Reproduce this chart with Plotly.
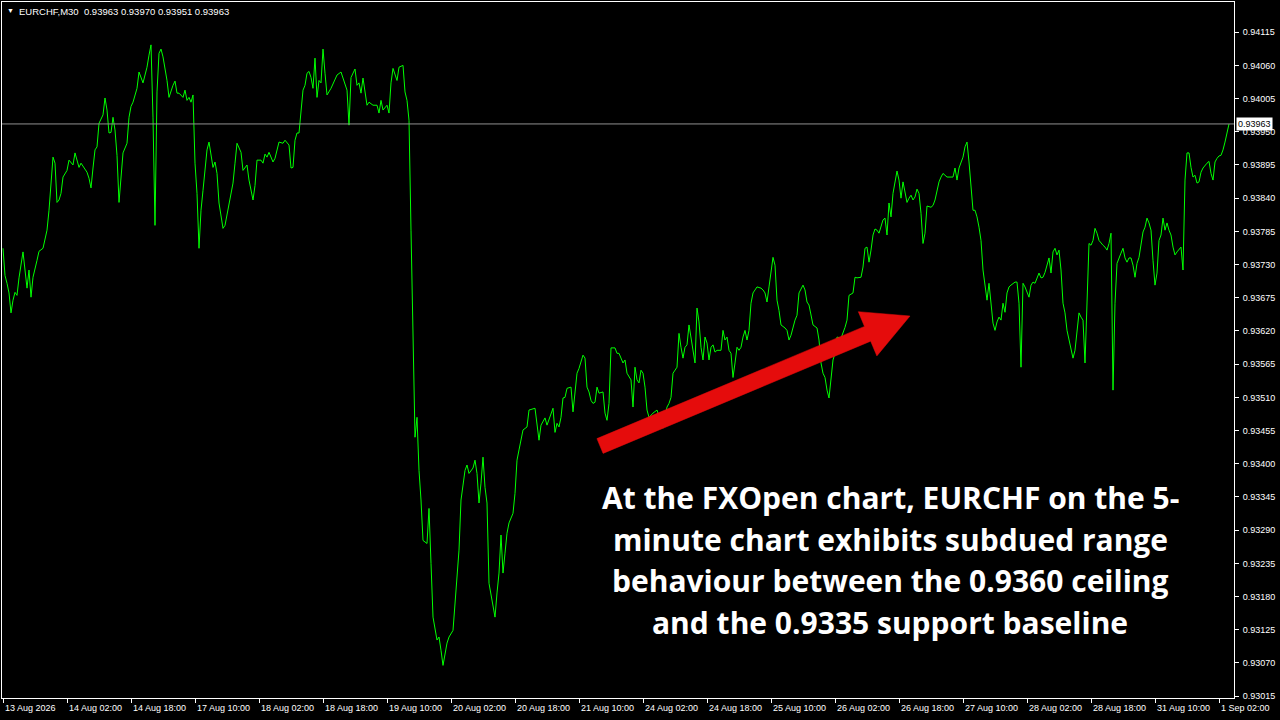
import math
import plotly.graph_objects as go

# ---------------- data ----------------
bar_index = [
    0, 1, 2, 3, 4, 5, 6, 7, 8, 9,
    10, 12, 13, 14, 15, 17, 18, 20, 22, 23,
    24, 25, 26, 27, 28, 29, 30, 32, 33, 35,
    36, 38, 39, 42, 43, 44, 45, 46, 47, 48,
    50, 51, 52, 53, 54, 55, 56, 57, 58, 59,
    60, 62, 63, 64, 65, 67, 68, 70, 72, 73,
    74, 75, 76, 77, 78, 79, 80, 82, 83, 85,
    86, 87, 88, 90, 91, 92, 93, 94, 95, 96,
    97, 98, 99, 100, 101, 102, 103, 105, 106, 107,
    108, 110, 111, 113, 115, 116, 117, 119, 120, 122,
    123, 125, 126, 127, 129, 130, 131, 132, 133, 135,
    136, 138, 140, 141, 143, 144, 145, 146, 147, 148,
    149, 150, 151, 152, 153, 154, 155, 156, 157, 158,
    159, 160, 161, 162, 164, 167, 169, 170, 172, 173,
    174, 176, 177, 178, 179, 180, 181, 182, 183, 185,
    187, 188, 189, 190, 192, 193, 194, 195, 197, 198,
    200, 201, 202, 203, 204, 205, 206, 207, 208, 209,
    210, 212, 213, 214, 215, 217, 218, 219, 220, 222,
    223, 225, 226, 228, 229, 231, 232, 233, 235, 236,
    237, 238, 239, 240, 241, 242, 243, 245, 246, 247,
    248, 249, 250, 251, 252, 253, 255, 256, 257, 258,
    260, 262, 263, 266, 267, 268, 269, 271, 272, 275,
    276, 277, 278, 279, 280, 281, 282, 284, 285, 287,
    288, 290, 291, 292, 293, 294, 295, 296, 297, 298,
    300, 301, 302, 303, 304, 306, 307, 308, 310, 311,
    312, 314, 315, 316, 317, 318, 319, 320, 321, 322,
    323, 325, 327, 330, 332, 333, 334, 335, 337, 338,
    339, 340, 341, 342, 343, 344, 345, 346, 347, 348,
    349, 350, 351, 352, 353, 354, 355, 356, 357, 359,
    360, 361, 362, 363, 364, 365, 366, 367, 368, 369,
    370, 371, 372, 373, 374, 375, 376, 377, 379, 380,
    381, 382, 383, 384, 385, 386, 387, 388, 389, 391,
    392, 393, 394, 396, 397, 398, 399, 400, 401, 402,
    403, 405, 407, 408, 409, 410, 411, 412, 413, 414,
    415, 416, 417, 419, 420, 421, 422, 423, 425, 426,
    427, 429, 430, 431, 432, 433, 434, 435, 436, 437,
    438, 439, 440, 441, 442, 443, 444, 445, 446, 447,
    448, 449, 450, 451, 452, 453, 454, 455, 456, 457,
    458, 459, 460, 461, 462, 464, 465, 466, 467, 468,
    469, 470, 472, 474, 475, 476, 477, 478, 479, 480,
    481, 482, 483, 484, 485, 486, 487, 488, 489, 490,
    491, 492, 493, 494, 495, 496, 497, 498, 499, 500,
    501, 502, 503, 504, 506, 507, 508, 509, 510, 511,
    512, 513, 514, 515, 516, 517, 518, 519, 520, 521,
    522, 523, 524, 525, 526, 527, 528, 529, 530, 531,
    532, 533, 534, 535, 536, 537, 538, 539, 540, 541,
    542, 543, 544, 545, 546, 547, 548, 549, 550, 551,
    552, 553, 554, 555, 556, 557, 558, 559, 560, 561,
    562, 563, 564, 565, 566, 567, 568, 569, 570, 571,
    572, 573, 574, 575, 576, 577, 578, 579, 580, 581,
    582, 583, 584, 585, 586, 587, 588, 589, 590, 591,
    592, 593, 594, 595, 596, 597, 598, 599, 600, 601,
    602, 603, 604, 605, 606, 607, 608, 609, 610, 611,
    612, 613,
]

close = [
    0.93757, 0.93712, 0.93699, 0.93683, 0.93650, 0.93671, 0.93684, 0.93679, 0.93708, 0.93732,
    0.93751, 0.93691, 0.93721, 0.93676, 0.93709, 0.93737, 0.93752, 0.93757, 0.93787, 0.93820,
    0.93858, 0.93908, 0.93898, 0.93833, 0.93837, 0.93848, 0.93875, 0.93886, 0.93903, 0.93895,
    0.93915, 0.93891, 0.93898, 0.93883, 0.93873, 0.93857, 0.93890, 0.93920, 0.93925, 0.93964,
    0.93978, 0.94006, 0.93986, 0.93948, 0.93949, 0.93974, 0.93953, 0.93911, 0.93833, 0.93875,
    0.93915, 0.93931, 0.93974, 0.93992, 0.93999, 0.94022, 0.94049, 0.94031, 0.94057, 0.94077,
    0.94094, 0.93973, 0.93795, 0.94016, 0.94080, 0.94087, 0.94074, 0.94035, 0.94007, 0.94027,
    0.94034, 0.94014, 0.94014, 0.94007, 0.94019, 0.94002, 0.94007, 0.93999, 0.94011, 0.93898,
    0.93848, 0.93757, 0.93820, 0.93853, 0.93886, 0.93920, 0.93933, 0.93891, 0.93900, 0.93881,
    0.93832, 0.93790, 0.93795, 0.93832, 0.93865, 0.93898, 0.93931, 0.93916, 0.93886, 0.93895,
    0.93870, 0.93837, 0.93861, 0.93903, 0.93903, 0.93898, 0.93913, 0.93908, 0.93916, 0.93900,
    0.93906, 0.93933, 0.93931, 0.93936, 0.93928, 0.93890, 0.93891, 0.93936, 0.93948, 0.93948,
    0.93986, 0.94019, 0.94027, 0.94047, 0.94050, 0.94040, 0.94022, 0.94072, 0.94007, 0.94035,
    0.94031, 0.94087, 0.94047, 0.94011, 0.94022, 0.94044, 0.94049, 0.94040, 0.94019, 0.93961,
    0.94040, 0.94054, 0.94027, 0.94031, 0.94014, 0.94039, 0.94014, 0.93994, 0.93999, 0.93994,
    0.93994, 0.93981, 0.94002, 0.93986, 0.93994, 0.93981, 0.94031, 0.94055, 0.94035, 0.94057,
    0.94060, 0.94016, 0.94002, 0.93969, 0.93787, 0.93621, 0.93444, 0.93477, 0.93389, 0.93340,
    0.93273, 0.93268, 0.93326, 0.93235, 0.93146, 0.93108, 0.93113, 0.93091, 0.93066, 0.93103,
    0.93113, 0.93124, 0.93174, 0.93257, 0.93340, 0.93389, 0.93398, 0.93384, 0.93393, 0.93406,
    0.93384, 0.93335, 0.93368, 0.93411, 0.93361, 0.93335, 0.93202, 0.93161, 0.93146, 0.93186,
    0.93219, 0.93282, 0.93219, 0.93252, 0.93285, 0.93302, 0.93318, 0.93351, 0.93406, 0.93423,
    0.93456, 0.93461, 0.93489, 0.93492, 0.93461, 0.93439, 0.93464, 0.93476, 0.93464, 0.93492,
    0.93452, 0.93467, 0.93461, 0.93477, 0.93509, 0.93510, 0.93525, 0.93527, 0.93486, 0.93550,
    0.93558, 0.93580, 0.93575, 0.93527, 0.93519, 0.93505, 0.93500, 0.93502, 0.93527, 0.93517,
    0.93519, 0.93484, 0.93472, 0.93500, 0.93592, 0.93592, 0.93583, 0.93583, 0.93567, 0.93572,
    0.93550, 0.93539, 0.93494, 0.93560, 0.93539, 0.93534, 0.93555, 0.93550, 0.93527, 0.93489,
    0.93477, 0.93484, 0.93489, 0.93459, 0.93494, 0.93500, 0.93510, 0.93550, 0.93560, 0.93616,
    0.93593, 0.93575, 0.93593, 0.93597, 0.93630, 0.93610, 0.93593, 0.93567, 0.93658, 0.93635,
    0.93593, 0.93572, 0.93610, 0.93600, 0.93572, 0.93593, 0.93597, 0.93585, 0.93588, 0.93588,
    0.93621, 0.93605, 0.93610, 0.93588, 0.93583, 0.93543, 0.93567, 0.93593, 0.93588, 0.93593,
    0.93610, 0.93621, 0.93605, 0.93621, 0.93666, 0.93683, 0.93688, 0.93693, 0.93691, 0.93688,
    0.93683, 0.93668, 0.93693, 0.93716, 0.93742, 0.93729, 0.93671, 0.93654, 0.93630, 0.93625,
    0.93621, 0.93605, 0.93613, 0.93638, 0.93646, 0.93683, 0.93691, 0.93696, 0.93688, 0.93668,
    0.93663, 0.93630, 0.93625, 0.93605, 0.93567, 0.93550, 0.93543, 0.93522, 0.93509, 0.93543,
    0.93572, 0.93583, 0.93610, 0.93608, 0.93616, 0.93626, 0.93638, 0.93679, 0.93683, 0.93709,
    0.93708, 0.93709, 0.93726, 0.93757, 0.93759, 0.93734, 0.93754, 0.93779, 0.93789, 0.93787,
    0.93782, 0.93795, 0.93804, 0.93807, 0.93779, 0.93832, 0.93809, 0.93848, 0.93865, 0.93885,
    0.93870, 0.93840, 0.93867, 0.93848, 0.93833, 0.93840, 0.93845, 0.93837, 0.93842, 0.93855,
    0.93848, 0.93815, 0.93765, 0.93782, 0.93827, 0.93825, 0.93828, 0.93837, 0.93853, 0.93867,
    0.93875, 0.93881, 0.93875, 0.93875, 0.93875, 0.93890, 0.93870, 0.93890, 0.93898, 0.93908,
    0.93925, 0.93933, 0.93900, 0.93853, 0.93820, 0.93820, 0.93809, 0.93792, 0.93770, 0.93721,
    0.93699, 0.93671, 0.93699, 0.93666, 0.93633, 0.93621, 0.93635, 0.93643, 0.93638, 0.93666,
    0.93651, 0.93683, 0.93693, 0.93696, 0.93701, 0.93701, 0.93666, 0.93560, 0.93699, 0.93693,
    0.93683, 0.93676, 0.93696, 0.93701, 0.93699, 0.93709, 0.93716, 0.93708, 0.93709, 0.93717,
    0.93729, 0.93741, 0.93716, 0.93751, 0.93757, 0.93746, 0.93754, 0.93721, 0.93666, 0.93650,
    0.93621, 0.93605, 0.93588, 0.93575, 0.93588, 0.93616, 0.93650, 0.93643, 0.93638, 0.93567,
    0.93688, 0.93765, 0.93762, 0.93770, 0.93790, 0.93782, 0.93770, 0.93765, 0.93762, 0.93759,
    0.93754, 0.93765, 0.93782, 0.93522, 0.93666, 0.93732, 0.93742, 0.93749, 0.93757, 0.93741,
    0.93734, 0.93741, 0.93741, 0.93729, 0.93709, 0.93732, 0.93742, 0.93765, 0.93784, 0.93792,
    0.93807, 0.93799, 0.93787, 0.93737, 0.93696, 0.93716, 0.93770, 0.93779, 0.93807, 0.93787,
    0.93799, 0.93787, 0.93779, 0.93759, 0.93746, 0.93751, 0.93755, 0.93759, 0.93721, 0.93870,
    0.93915, 0.93915, 0.93891, 0.93875, 0.93878, 0.93865, 0.93867, 0.93883, 0.93890, 0.93895,
    0.93898, 0.93901, 0.93881, 0.93870, 0.93900, 0.93906, 0.93910, 0.93911, 0.93920, 0.93933,
    0.93949, 0.93963,
]

x_tick_index = [0, 32, 64, 96, 128, 160, 192, 224, 256, 288,
                320, 352, 384, 416, 448, 480, 512, 544, 576, 608]
x_tick_labels = ["13 Aug 2026", "14 Aug 02:00", "14 Aug 18:00", "17 Aug 10:00",
                 "18 Aug 02:00", "18 Aug 18:00", "19 Aug 10:00", "20 Aug 02:00",
                 "20 Aug 18:00", "21 Aug 10:00", "24 Aug 02:00", "24 Aug 18:00",
                 "25 Aug 10:00", "26 Aug 02:00", "26 Aug 18:00", "27 Aug 10:00",
                 "28 Aug 02:00", "28 Aug 18:00", "31 Aug 10:00", "1 Sep 02:00"]

y_tick_values = [0.94115, 0.94060, 0.94005, 0.93950, 0.93895, 0.93840, 0.93785,
                 0.93730, 0.93675, 0.93620, 0.93565, 0.93510, 0.93455, 0.93400,
                 0.93345, 0.93290, 0.93235, 0.93180, 0.93125, 0.93070, 0.93015]
y_tick_labels = ["%.5f" % v for v in y_tick_values]

symbol = "EURCHF,M30"
ohlc = ["0.93963", "0.93970", "0.93951", "0.93963"]
last_price = 0.93963

caption_lines = ["At the FXOpen chart, EURCHF on the 5-",
                 "minute chart exhibits subdued range",
                 "behaviour between the 0.9360 ceiling",
                 "and the 0.9335 support baseline"]

# ---------------- layout geometry ----------------
W, H = 1280, 720
PL, PR, PT, PB = 2, 1234, 2, 698  # plot area in pixels


def px_to_paper(px, py):
    return ((px - PL) / (PR - PL), (PB - py) / (PB - PT))


fig = go.Figure()
fig.add_trace(go.Scatter(x=bar_index, y=close, mode="lines",
                         line=dict(color="#00ff00", width=1),
                         hoverinfo="skip", showlegend=False))

white = "#ffffff"
fig.update_layout(
    width=W, height=H,
    margin=dict(l=PL, r=W - PR, t=PT, b=H - PB, autoexpand=False),
    paper_bgcolor="#000000", plot_bgcolor="#000000",
    showlegend=False,
    font=dict(family="Liberation Sans, Arial, sans-serif", size=9, color=white),
)
fig.update_xaxes(range=[-0.5, 615.5], showgrid=False, zeroline=False,
                 showline=True, linecolor=white, linewidth=1, mirror=True,
                 ticks="outside", ticklen=4, tickcolor=white, tickwidth=1,
                 tickvals=x_tick_index, ticktext=[""] * len(x_tick_index),
                 showticklabels=False, automargin=False)
fig.update_yaxes(range=[0.93012, 0.94165], side="right", showgrid=False,
                 zeroline=False, showline=True, linecolor=white, linewidth=1,
                 mirror=True, ticks="outside", ticklen=4, tickcolor=white,
                 tickwidth=1, tickvals=y_tick_values, ticktext=y_tick_labels,
                 tickfont=dict(size=9, color=white,
                               family="Liberation Sans, Arial, sans-serif"),
                 ticklabelstandoff=2, automargin=False)

annotations = []
# x labels, left-aligned at their ticks
for idx, lab in zip(x_tick_index, x_tick_labels):
    annotations.append(dict(x=idx, y=0, xref="x", yref="paper", text=lab,
                            showarrow=False, xanchor="left", yanchor="top",
                            xshift=0, yshift=-3,
                            font=dict(size=9, color=white)))

# current price line and box
fig.add_shape(type="line", xref="paper", yref="y", x0=0, x1=1,
              y0=last_price, y1=last_price,
              line=dict(color="#909090", width=1))
annotations.append(dict(x=1, y=last_price, xref="paper", yref="y",
                        text="%.5f" % last_price, showarrow=False,
                        xanchor="left", yanchor="middle", xshift=2,
                        bgcolor="#ffffff", borderpad=1,
                        font=dict(size=9, color="#000000")))

# header
annotations.append(dict(x=0, y=1, xref="paper", yref="paper", text="▼",
                        showarrow=False, xanchor="left", yanchor="top",
                        xshift=3, yshift=-3, font=dict(size=7, color=white)))
annotations.append(dict(x=0, y=1, xref="paper", yref="paper",
                        text=symbol + "  " + " ".join(ohlc),
                        showarrow=False, xanchor="left", yanchor="top",
                        xshift=15, yshift=-2, font=dict(size=9.5, color=white)))

# caption lines
line_centres_px = [497, 539, 580, 622]
for txt, cy in zip(caption_lines, line_centres_px):
    px, py = px_to_paper(890, cy)
    annotations.append(dict(x=px, y=py, xref="paper", yref="paper",
                            text="<b>" + txt + "</b>", showarrow=False,
                            xanchor="center", yanchor="middle",
                            font=dict(size=30, color=white,
                                      family="Open Sans, Noto Sans, sans-serif")))

fig.update_layout(annotations=annotations)

# red arrow (filled polygon) in pixel geometry -> paper coords
tail = (600.0, 446.0)
tip = (910.0, 316.0)
dx, dy = tip[0] - tail[0], tip[1] - tail[1]
L = math.hypot(dx, dy)
ux, uy = dx / L, dy / L
nx, ny = -uy, ux
shaft_hw, head_hw, head_len = 8.0, 24.0, 46.0
bx, by = tip[0] - head_len * ux, tip[1] - head_len * uy
poly_px = [
    (tail[0] - shaft_hw * nx, tail[1] - shaft_hw * ny),
    (bx - shaft_hw * nx, by - shaft_hw * ny),
    (bx - head_hw * nx, by - head_hw * ny),
    tip,
    (bx + head_hw * nx, by + head_hw * ny),
    (bx + shaft_hw * nx, by + shaft_hw * ny),
    (tail[0] + shaft_hw * nx, tail[1] + shaft_hw * ny),
]
pts = [px_to_paper(*p) for p in poly_px]
path = "M " + " L ".join("%.5f,%.5f" % p for p in pts) + " Z"
fig.add_shape(type="path", xref="paper", yref="paper", path=path,
              fillcolor="#e50c0c", line=dict(color="#e50c0c", width=0.5),
              layer="above")

fig.write_html("out.html",
               config={"displayModeBar": False},
               post_script="document.body.style.margin='0';"
                           "document.body.style.background='#000';")
